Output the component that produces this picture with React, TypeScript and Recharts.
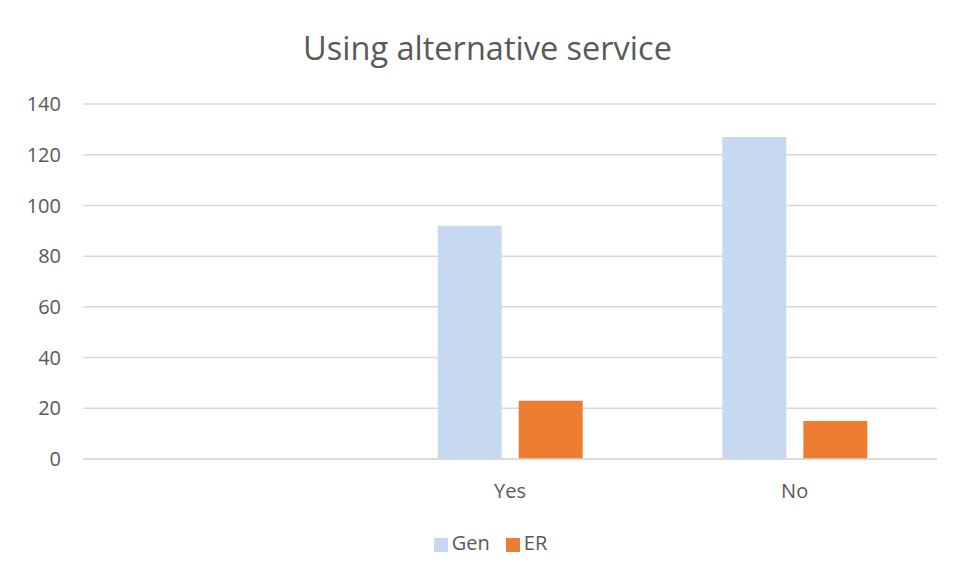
import { BarChart, Bar, XAxis, YAxis, CartesianGrid, Legend } from 'recharts';

const categories = ['', 'Yes', 'No'];
const genValues = [0, 92, 127];
const erValues = [0, 23, 15];
const yTicks = [0, 20, 40, 60, 80, 100, 120, 140];

const FONT = '"Open Sans", "Noto Sans", sans-serif';
const TEXT = '#595959';

export default function App() {
  const data = categories.map((name, i) => ({
    name,
    Gen: genValues[i] || null,
    ER: erValues[i] || null,
  }));

  return (
    <div
      style={{
        position: 'relative',
        width: 959,
        height: 575,
        margin: '-8px 0 0 -8px',
        overflow: 'hidden',
        background: '#fff',
        fontFamily: FONT,
      }}
    >
      <div
        style={{
          position: 'absolute',
          left: 0,
          width: 975,
          top: 28,
          textAlign: 'center',
          fontSize: 32.5,
          color: TEXT,
          lineHeight: '40px',
        }}
      >
        Using alternative service
      </div>
      <BarChart
        width={959}
        height={575}
        data={data}
        margin={{ top: 104, right: 22, left: 0, bottom: 0 }}
        barCategoryGap="24.6%"
        barGap={17}
        style={{ position: 'absolute', left: 0, top: 0 }}
      >
        <CartesianGrid vertical={false} stroke="#d9d9d9" strokeWidth={1.5} />
        <XAxis
          dataKey="name"
          height={42}
          tickLine={false}
          tickSize={0}
          tickMargin={25}
          axisLine={{ stroke: '#d9d9d9', strokeWidth: 1.5 }}
          tick={{ fill: TEXT, fontSize: 20, fontFamily: FONT }}
        />
        <YAxis
          width={83}
          domain={[0, 140]}
          ticks={yTicks}
          axisLine={false}
          tickLine={false}
          tickSize={0}
          tickMargin={22}
          tick={{ fill: TEXT, fontSize: 20, fontFamily: FONT }}
        />
        <Legend
          verticalAlign="bottom"
          align="center"
          height={60}
          iconType="square"
          iconSize={14}
          itemSorter={null}
          wrapperStyle={{ paddingTop: 14, bottom: -14, left: 30, fontFamily: FONT, fontSize: 20 }}
          formatter={(value) => (
            <span style={{ color: TEXT, marginRight: 6 }}>{value}</span>
          )}
        />
        <Bar dataKey="Gen" fill="#c7d9f1" isAnimationActive={false} />
        <Bar dataKey="ER" fill="#ed7d31" isAnimationActive={false} />
      </BarChart>
      {/* chart frame, right and bottom edges fall outside the page */}
      <div
        style={{
          position: 'absolute',
          left: 6,
          top: 4,
          width: 970,
          height: 590,
          border: '2px solid #d4d4d4',
          pointerEvents: 'none',
        }}
      />
    </div>
  );
}
